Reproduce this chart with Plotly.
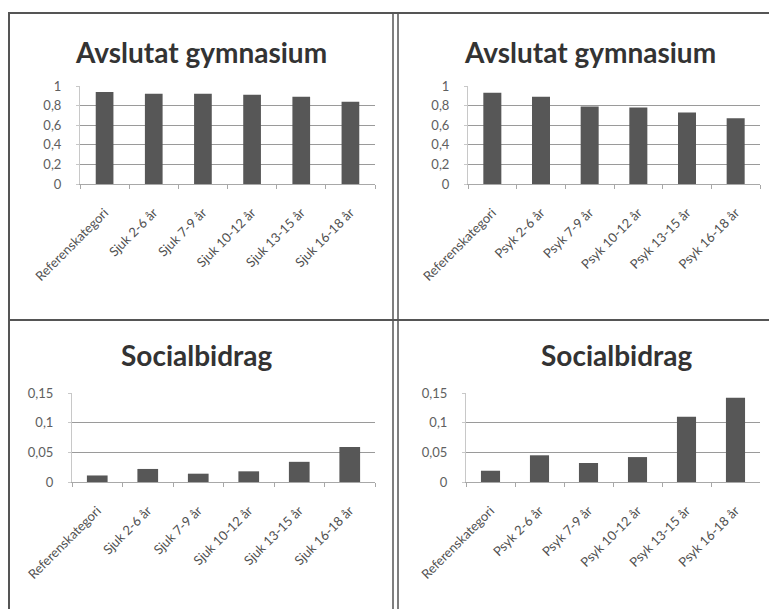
import plotly.graph_objects as go

# Figure size in pixels
W, H = 769, 609

# Category labels
cats_sjuk = ["Referenskategori", "Sjuk 2-6 år", "Sjuk 7-9 år", "Sjuk 10-12 år",
             "Sjuk 13-15 år", "Sjuk 16-18 år"]
cats_psyk = ["Referenskategori", "Psyk 2-6 år", "Psyk 7-9 år", "Psyk 10-12 år",
             "Psyk 13-15 år", "Psyk 16-18 år"]

# Series values
gym_sjuk = [0.94, 0.92, 0.92, 0.91, 0.89, 0.84]
gym_psyk = [0.93, 0.89, 0.79, 0.78, 0.73, 0.67]
soc_sjuk = [0.011, 0.022, 0.014, 0.018, 0.034, 0.059]
soc_psyk = [0.019, 0.045, 0.032, 0.042, 0.11, 0.142]

# Panel titles and y tick values
title_gym = "Avslutat gymnasium"
title_soc = "Socialbidrag"
yticks_gym = [0, 0.2, 0.4, 0.6, 0.8, 1]
yticks_soc = [0, 0.05, 0.1, 0.15]

BAR = "#575757"
GRID = "#9a9a9a"
FONT = "Lato"


def px_x(x):
    return x / W


def px_y(y):
    return 1 - y / H


# (categories, values, title, yticks, plot box in px: left, right, top, bottom,
#  title centre x, title centre y, bar width)
panels = [
    (cats_sjuk, gym_sjuk, title_gym, yticks_gym, (80, 375, 86, 184), (201, 52), 0.36),
    (cats_psyk, gym_psyk, title_gym, yticks_gym, (468, 760, 86, 184), (590, 52), 0.37),
    (cats_sjuk, soc_sjuk, title_soc, yticks_soc, (72, 375, 393, 482), (197, 355), 0.41),
    (cats_psyk, soc_psyk, title_soc, yticks_soc, (466, 760, 393, 482), (617, 355), 0.39),
]

fig = go.Figure()
layout = dict(
    width=W, height=H,
    margin=dict(l=0, r=0, t=0, b=0, pad=0, autoexpand=False),
    paper_bgcolor="white", plot_bgcolor="white",
    showlegend=False,
    separators=", ",
    font=dict(family=FONT, color="#444"),
)
annotations = []

for i, (cats, vals, title, yt, box, tpos, bw) in enumerate(panels):
    n = "" if i == 0 else str(i + 1)
    l, r, t, b = box
    fig.add_trace(go.Bar(
        x=cats, y=vals, width=bw,
        marker=dict(color=BAR, line=dict(width=0)),
        xaxis="x" + n, yaxis="y" + n,
    ))
    layout["xaxis" + n] = dict(
        domain=[px_x(l), px_x(r)], anchor="y" + n,
        type="category", range=[-0.5, len(cats) - 0.5],
        tickangle=-45, tickfont=dict(size=13, color="#505050", family=FONT),
        ticklabelstandoff=15,
        showline=True, linecolor="#a8a8a8", linewidth=1,
        ticks="outside", tickson="boundaries", ticklen=4, tickcolor="#a8a8a8",
        showgrid=False, fixedrange=True, automargin=False,
    )
    layout["yaxis" + n] = dict(
        domain=[px_y(b), px_y(t)], anchor="x" + n,
        range=[0, yt[-1]], tickvals=yt,
        tickfont=dict(size=13, color="#606060", family=FONT),
        ticklabelstandoff=12,
        showgrid=True, gridcolor=GRID, gridwidth=1,
        showline=True, linecolor="#c8c8c8", linewidth=1,
        ticks="outside", ticklen=3, tickcolor="#c8c8c8",
        zeroline=False, fixedrange=True, automargin=False,
    )
    annotations.append(dict(
        text="<b>" + title + "</b>", x=px_x(tpos[0]), y=px_y(tpos[1]),
        xref="paper", yref="paper", xanchor="center", yanchor="middle",
        showarrow=False, font=dict(size=28, color="#333", family=FONT),
    ))

# Frame lines separating the four panels
line_col = "#555"
shapes = [
    dict(type="line", xref="paper", yref="paper",
         x0=px_x(8), x1=1, y0=px_y(13), y1=px_y(13),
         line=dict(color=line_col, width=2)),
    dict(type="line", xref="paper", yref="paper",
         x0=px_x(9), x1=px_x(9), y0=px_y(13), y1=0,
         line=dict(color=line_col, width=2)),
    dict(type="line", xref="paper", yref="paper",
         x0=px_x(393), x1=px_x(393), y0=px_y(13), y1=0,
         line=dict(color=line_col, width=1.5)),
    dict(type="line", xref="paper", yref="paper",
         x0=px_x(398), x1=px_x(398), y0=px_y(13), y1=0,
         line=dict(color=line_col, width=1.5)),
    dict(type="line", xref="paper", yref="paper",
         x0=px_x(8), x1=1, y0=px_y(320), y1=px_y(320),
         line=dict(color=line_col, width=2)),
]

layout["annotations"] = annotations
layout["shapes"] = shapes
fig.update_layout(**layout)

fig.write_html("out.html")
